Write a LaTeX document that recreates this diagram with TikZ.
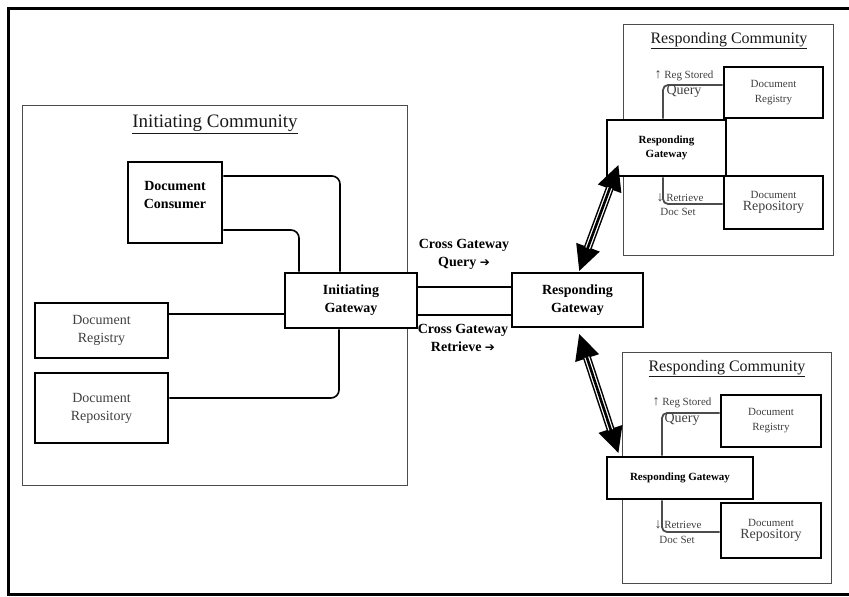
\documentclass[tikz,border=0pt]{standalone}
\usepackage{fontspec}
\setmainfont{Liberation Serif}
\newfontfamily\symfont{DejaVu Sans}
\usetikzlibrary{arrows.meta,calc}
\newcommand\xgwarrow[2]{%
  \draw[line width=8pt,{Triangle[length=26pt,width=23pt]}-{Triangle[length=26pt,width=23pt]}] (#1) -- (#2);
  \draw[white,line width=5pt,shorten <=25pt,shorten >=25pt] (#1) -- (#2);
  \draw[black,line width=2.6pt,shorten <=24pt,shorten >=24pt] (#1) -- (#2);}
\begin{document}
\begin{tikzpicture}[x=1pt,y=-1pt,
  box/.style={draw,line width=2.8pt,fill=white,inner sep=0pt,align=center},
  comm/.style={draw=black!70,line width=0.9pt,inner sep=0pt},
  ttl/.style={text=black!90,inner sep=0pt},
  gtxt/.style={text=black!75,align=center,inner sep=0pt},
  btxt/.style={text=black,align=center,inner sep=0pt},
  iconn/.style={draw=black,line width=1.6pt,rounded corners=8pt},
  rconn/.style={draw=black!70,line width=1.8pt,rounded corners=5pt},
  f14/.style={font=\fontsize{14}{18}\selectfont},
  f11/.style={font=\fontsize{11}{15}\selectfont},
  bf14/.style={font=\fontsize{14}{18}\selectfont\bfseries},
  bf11/.style={font=\fontsize{11}{14}\selectfont\bfseries}
]
\useasboundingbox (0,0) rectangle (849,597);
% outer frame
\draw[line width=3pt] (851,8) -- (8,8) -- (8,594) -- (851,594);

% communities
\node[comm,minimum width=385pt,minimum height=380pt] (icomm) at (214.5,295) {};
\node[ttl,font=\fontsize{19}{22}\selectfont] (icommt) at (215,124) {\underline{Initiating Community}};
\node[comm,minimum width=210pt,minimum height=231pt] (rcomm1) at (728,139.5) {};
\node[ttl,font=\fontsize{16}{19}\selectfont] (rcomm1t) at (729,41) {\underline{Responding Community}};
\node[comm,minimum width=209pt,minimum height=231pt] (rcomm2) at (726.5,467.5) {};
\node[ttl,font=\fontsize{16}{19}\selectfont] (rcomm2t) at (727,369) {\underline{Responding Community}};

% initiating community boxes
\node[box,minimum width=94pt,minimum height=81pt] (dc) at (175,202.5) {};
\node[btxt,bf14] (dct) at (175,194.5) {Document\\Consumer};
\node[box,gtxt,f14,minimum width=133pt,minimum height=55pt] (drl) at (101.5,330.5) {Document\\Registry};
\node[box,gtxt,f14,minimum width=133pt,minimum height=70pt] (dpl) at (101.5,408) {Document\\Repository};
\node[box,btxt,bf14,minimum width=132pt,minimum height=55pt] (ig) at (351,300.5) {Initiating\\Gateway};
\node[box,btxt,bf14,minimum width=131pt,minimum height=54pt] (rgc) at (577.5,300) {Responding\\Gateway};

% initiating connectors
\draw[iconn] (dc.east |- 0,176) -| (ig.north -| 340,0);
\draw[iconn] (dc.east |- 0,230) -| (ig.north -| 299,0);
\draw[iconn] (drl.east |- 0,314) -- (ig.west |- 0,314);
\draw[iconn] (dpl.east |- 0,398) -| (ig.south -| 339,0);
\draw[iconn] (ig.east |- 0,287) -- (rgc.west |- 0,287);
\draw[iconn] (ig.east |- 0,315) -- (rgc.west |- 0,315);
\node[btxt,bf14] (cgq) at (464,254) {Cross Gateway\\Query {\symfont\fontsize{12}{18}\selectfont ➔}};
\node[btxt,bf14] (cgr) at (463,338) {Cross Gateway\\Retrieve {\symfont\fontsize{12}{18}\selectfont ➔}};

% responding community 1
\node[box,gtxt,f11,minimum width=99pt,minimum height=51pt] (dr1) at (773.5,92.5) {Document\\Registry};
\node[box,btxt,bf11,minimum width=119pt,minimum height=56pt] (rg1) at (666.5,148) {Responding\\Gateway};
\node[box,gtxt,minimum width=99pt,minimum height=53pt] (dp1) at (773.5,202.5) {{\fontsize{11}{15}\selectfont Document}\\{\fontsize{14}{15}\selectfont Repository}};
\draw[rconn] (rg1.north -| 663,0) |- (dr1.west |- 0,85);
\draw[rconn] (rg1.south -| 663,0) |- (dp1.west |- 0,204);
\node[gtxt,f11] (q1a) at (684,76) {{\fontsize{14}{15}\selectfont↑} Reg Stored};
\node[gtxt,f14] (q1b) at (684,91) {Query};
\node[gtxt,f11] (r1a) at (680,198) {{\fontsize{14}{15}\selectfont↓} Retrieve};
\node[gtxt,f11] (r1b) at (678,212) {Doc Set};

% responding community 2
\node[box,gtxt,f11,minimum width=100pt,minimum height=52pt] (dr2) at (771,421) {Document\\Registry};
\node[box,btxt,bf11,minimum width=146pt,minimum height=42pt] (rg2) at (680,478) {Responding Gateway};
\node[box,gtxt,minimum width=100pt,minimum height=55pt] (dp2) at (771,530.5) {{\fontsize{11}{15}\selectfont Document}\\{\fontsize{14}{16}\selectfont Repository}};
\draw[rconn] (rg2.north -| 662,0) |- (dr2.west |- 0,413);
\draw[rconn] (rg2.south -| 662,0) |- (dp2.west |- 0,532);
\node[gtxt,f11] (q2a) at (682,403) {{\fontsize{14}{15}\selectfont↑} Reg Stored};
\node[gtxt,f14] (q2b) at (682,419) {Query};
\node[gtxt,f11] (r2a) at (678,525) {{\fontsize{14}{15}\selectfont↓} Retrieve};
\node[gtxt,f11] (r2b) at (677,540) {Doc Set};

% gateway arrows
\coordinate (a1s) at ($(rgc.north)+(1.5,0)$);
\coordinate (a1e) at ($(rg1.south west)+(13,-13)$);
\coordinate (a2s) at ($(rgc.south)+(1.5,5)$);
\coordinate (a2e) at ($(rg2.north west)+(13,-2)$);
\xgwarrow{a1s}{a1e}
\xgwarrow{a2s}{a2e}
\end{tikzpicture}
\end{document}
